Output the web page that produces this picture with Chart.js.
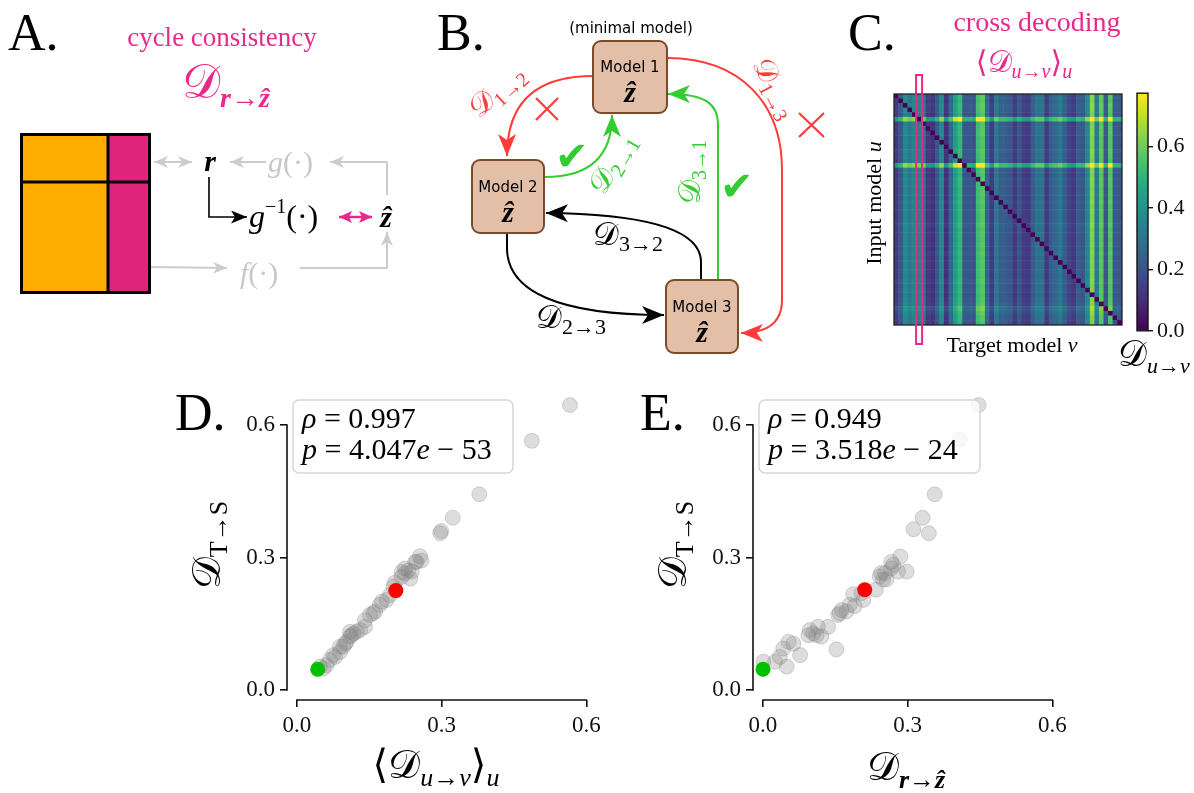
<!DOCTYPE html>
<html>
<head>
<meta charset="utf-8">
<script src="https://cdn.jsdelivr.net/npm/chart.js@4.4.1/dist/chart.umd.min.js"></script>
<style>
    body { margin: 0; background: #fff; width: 1194px; height: 793px; position: relative; overflow: hidden; }
    canvas { position: absolute; }
    #overlay { position: absolute; left: 0; top: 0; z-index: 2; pointer-events: none; font-family: "Liberation Serif", "DejaVu Serif", serif; }
    .sans { font-family: "DejaVu Sans", sans-serif; }
</style>
</head>
<body>

<canvas id="heatmap" width="246" height="280" style="left:880px;top:70px"></canvas>
<canvas id="colorbar" width="74" height="272" style="left:1120px;top:76px"></canvas>
<canvas id="scatterD" width="420" height="380" style="left:200px;top:370px"></canvas>
<canvas id="scatterE" width="420" height="380" style="left:666px;top:370px"></canvas>

<svg id="overlay" width="1194" height="793">
    <defs>
        <marker id="aGray" markerUnits="userSpaceOnUse" markerWidth="14" markerHeight="12" viewBox="0 0 14 12" refX="14" refY="6" orient="auto-start-reverse">
            <path d="M0,0 L14,6 L0,12 L4,6 z" fill="#cccccc"/>
        </marker>
        <marker id="aBlackS" markerUnits="userSpaceOnUse" markerWidth="16" markerHeight="13" viewBox="0 0 16 13" refX="16" refY="6.5" orient="auto">
            <path d="M0,0 L16,6.5 L0,13 L4,6.5 z" fill="#000"/>
        </marker>
        <marker id="aPink" markerUnits="userSpaceOnUse" markerWidth="13" markerHeight="12" viewBox="0 0 13 12" refX="13" refY="6" orient="auto-start-reverse">
            <path d="M0,0 L13,6 L0,12 L3,6 z" fill="#e7298a"/>
        </marker>
        <marker id="aRed" markerUnits="userSpaceOnUse" markerWidth="22" markerHeight="18" viewBox="0 0 22 18" refX="22" refY="9" orient="auto">
            <path d="M0,0 L22,9 L0,18 L6,9 z" fill="#ff3b3b"/>
        </marker>
        <marker id="aGreen" markerUnits="userSpaceOnUse" markerWidth="22" markerHeight="18" viewBox="0 0 22 18" refX="22" refY="9" orient="auto">
            <path d="M0,0 L22,9 L0,18 L6,9 z" fill="#33cc33"/>
        </marker>
        <marker id="aBlack" markerUnits="userSpaceOnUse" markerWidth="22" markerHeight="18" viewBox="0 0 22 18" refX="22" refY="9" orient="auto">
            <path d="M0,0 L22,9 L0,18 L6,9 z" fill="#000"/>
        </marker>
    </defs>

    <!-- A. cycle consistency -->
    <text x="8" y="50" font-size="52">A.</text>
    <text x="222" y="46" font-size="27" fill="#e7298a" text-anchor="middle">cycle consistency</text>
    <text x="226" y="98" fill="#e7298a" text-anchor="middle"><tspan font-size="48">𝒟</tspan><tspan font-size="28" dy="9" font-weight="bold" font-style="italic">r</tspan><tspan font-size="28">→</tspan><tspan font-size="28" font-weight="bold" font-style="italic">ẑ</tspan></text>

    <rect x="21.5" y="134.5" width="128" height="158" fill="#ffad01"/>
    <rect x="108" y="134.5" width="41.5" height="158" fill="#df247c"/>
    <line x1="108" y1="134" x2="108" y2="293" stroke="#000" stroke-width="3"/>
    <line x1="21" y1="182" x2="150" y2="182" stroke="#000" stroke-width="3"/>
    <rect x="21.5" y="134.5" width="128" height="158" fill="none" stroke="#000" stroke-width="3"/>

    <line x1="154" y1="162" x2="192" y2="162" stroke="#cccccc" stroke-width="2" marker-start="url(#aGray)" marker-end="url(#aGray)"/>
    <text x="210" y="171" font-size="30" font-weight="bold" font-style="italic" text-anchor="middle">r</text>
    <line x1="266" y1="162" x2="230" y2="162" stroke="#cccccc" stroke-width="2" marker-end="url(#aGray)"/>
    <text x="268" y="172" font-size="30" fill="#c8c8c8"><tspan font-style="italic">g</tspan>(·)</text>
    <polyline points="387,195 387,162 330,162" fill="none" stroke="#cccccc" stroke-width="2" marker-end="url(#aGray)"/>
    <line x1="151" y1="267" x2="227" y2="268" stroke="#cccccc" stroke-width="2" marker-end="url(#aGray)"/>
    <text x="240" y="283" font-size="30" fill="#c8c8c8"><tspan font-style="italic">f</tspan>(·)</text>
    <polyline points="300,268 387,268 387,232" fill="none" stroke="#cccccc" stroke-width="2" marker-end="url(#aGray)"/>

    <polyline points="209,177 209,217 247,217" fill="none" stroke="#000" stroke-width="1.6" marker-end="url(#aBlackS)"/>
    <text x="249" y="227" font-size="32"><tspan font-style="italic">g</tspan><tspan font-size="20" dy="-14">−1</tspan><tspan dy="14">(·)</tspan></text>
    <line x1="339" y1="217" x2="372" y2="217" stroke="#e7298a" stroke-width="2.5" marker-start="url(#aPink)" marker-end="url(#aPink)"/>
    <text x="386" y="227" font-size="30" font-weight="bold" font-style="italic" text-anchor="middle">ẑ</text>

    <!-- B. model graph -->
    <text x="437" y="50" font-size="52">B.</text>
    <text x="631" y="33" class="sans" font-size="15" text-anchor="middle">(minimal model)</text>

    <path d="M593,76 C545,76 507,95 507,156" fill="none" stroke="#ff3b3b" stroke-width="2" marker-end="url(#aRed)"/>
    <path d="M667,58 C742,58 782,105 782,170 L782,300 C782,322 768,333 741,333" fill="none" stroke="#ff3b3b" stroke-width="2" marker-end="url(#aRed)"/>
    <path d="M545,177 C585,177 612,160 612,115" fill="none" stroke="#33cc33" stroke-width="2" marker-end="url(#aGreen)"/>
    <path d="M718,280 L718,125 C718,104 706,94 668,94" fill="none" stroke="#33cc33" stroke-width="2" marker-end="url(#aGreen)"/>
    <path d="M701,280 L701,262 C701,228 640,214 546,213" fill="none" stroke="#000" stroke-width="2" marker-end="url(#aBlack)"/>
    <path d="M507,233 L507,248 C507,292 560,315 664,315" fill="none" stroke="#000" stroke-width="2" marker-end="url(#aBlack)"/>

    <rect x="593" y="41" width="74" height="72" rx="8" fill="#e3bfa8" stroke="#7b4a2b" stroke-width="2"/>
    <rect x="472" y="160" width="72" height="73" rx="8" fill="#e3bfa8" stroke="#7b4a2b" stroke-width="2"/>
    <rect x="666" y="280" width="72" height="73" rx="8" fill="#e3bfa8" stroke="#7b4a2b" stroke-width="2"/>
    <text x="630" y="72" class="sans" font-size="15" text-anchor="middle">Model 1</text>
    <text x="630" y="102" font-size="30" font-weight="bold" font-style="italic" text-anchor="middle">ẑ</text>
    <text x="508" y="192" class="sans" font-size="15" text-anchor="middle">Model 2</text>
    <text x="508" y="222" font-size="30" font-weight="bold" font-style="italic" text-anchor="middle">ẑ</text>
    <text x="702" y="312" class="sans" font-size="15" text-anchor="middle">Model 3</text>
    <text x="702" y="342" font-size="30" font-weight="bold" font-style="italic" text-anchor="middle">ẑ</text>

    <text transform="translate(503,98) rotate(-42)" text-anchor="middle" fill="#ff3b3b"><tspan font-size="30">𝒟</tspan><tspan font-size="20" dy="6">1→2</tspan></text>
    <text transform="translate(767,92) rotate(62)" text-anchor="middle" fill="#ff3b3b"><tspan font-size="30">𝒟</tspan><tspan font-size="20" dy="6">1→3</tspan></text>
    <text transform="translate(620,168) rotate(-60)" text-anchor="middle" fill="#33cc33"><tspan font-size="30">𝒟</tspan><tspan font-size="20" dy="6">2→1</tspan></text>
    <text transform="translate(700,172) rotate(-90)" text-anchor="middle" fill="#33cc33"><tspan font-size="30">𝒟</tspan><tspan font-size="20" dy="6">3→1</tspan></text>
    <text x="628" y="245" text-anchor="middle"><tspan font-size="32">𝒟</tspan><tspan font-size="22" dy="6">3→2</tspan></text>
    <text x="571" y="328" text-anchor="middle"><tspan font-size="32">𝒟</tspan><tspan font-size="22" dy="6">2→3</tspan></text>

    <path d="M536,98 L558,120 M558,98 L536,120" stroke="#ff3b3b" stroke-width="2.2"/>
    <path d="M799,113 L824,137 M824,113 L799,137" stroke="#ff3b3b" stroke-width="2.2"/>
    <text x="555" y="170" class="sans" font-size="40" fill="#33cc33">✔</text>
    <text x="720" y="200" class="sans" font-size="40" fill="#33cc33">✔</text>

    <!-- C. cross decoding -->
    <text x="848" y="50" font-size="52">C.</text>
    <text x="1037" y="31" font-size="28" fill="#e7298a" text-anchor="middle">cross decoding</text>
    <text x="1024" y="72" fill="#e7298a" text-anchor="middle"><tspan font-size="30">⟨𝒟</tspan><tspan font-size="20" dy="6" font-style="italic">u</tspan><tspan font-size="20">→</tspan><tspan font-size="20" font-style="italic">v</tspan><tspan font-size="30" dy="-6">⟩</tspan><tspan font-size="20" dy="6" font-style="italic">u</tspan></text>
    <text transform="translate(881,203) rotate(-90)" font-size="22" text-anchor="middle">Input model <tspan font-style="italic">u</tspan></text>
    <text x="1012" y="352" font-size="22" text-anchor="middle">Target model <tspan font-style="italic">v</tspan></text>
    <text x="1118" y="366"><tspan font-size="36">𝒟</tspan><tspan font-size="22" dy="7" font-style="italic">u</tspan><tspan font-size="22">→</tspan><tspan font-size="22" font-style="italic">v</tspan></text>

    <!-- D. -->
    <text x="175" y="430" font-size="52">D.</text>
    <rect x="293" y="400" width="220" height="73" rx="6" fill="#fff" fill-opacity="0.8" stroke="#d6d6d6" stroke-width="1.5"/>
    <text x="302" y="428" font-size="30"><tspan font-style="italic">ρ</tspan> = 0.997</text>
    <text x="302" y="459" font-size="30"><tspan font-style="italic">p</tspan> = 4.047<tspan font-style="italic">e</tspan> − 53</text>
    <text transform="translate(220,545) rotate(-90)" text-anchor="middle"><tspan font-size="40">𝒟</tspan><tspan font-size="26" dy="7">T→S</tspan></text>
    <text x="436" y="778" text-anchor="middle"><tspan font-size="40">⟨𝒟</tspan><tspan font-size="26" dy="8" font-style="italic">u</tspan><tspan font-size="26">→</tspan><tspan font-size="26" font-style="italic">v</tspan><tspan font-size="40" dy="-8">⟩</tspan><tspan font-size="26" dy="8" font-style="italic">u</tspan></text>

    <!-- E. -->
    <text x="640" y="430" font-size="52">E.</text>
    <rect x="759" y="400" width="221" height="73" rx="6" fill="#fff" fill-opacity="0.8" stroke="#d6d6d6" stroke-width="1.5"/>
    <text x="768" y="428" font-size="30"><tspan font-style="italic">ρ</tspan> = 0.949</text>
    <text x="768" y="459" font-size="30"><tspan font-style="italic">p</tspan> = 3.518<tspan font-style="italic">e</tspan> − 24</text>
    <text transform="translate(686,545) rotate(-90)" text-anchor="middle"><tspan font-size="40">𝒟</tspan><tspan font-size="26" dy="7">T→S</tspan></text>
    <text x="906" y="780" text-anchor="middle"><tspan font-size="40">𝒟</tspan><tspan font-size="26" dy="8" font-weight="bold" font-style="italic">r</tspan><tspan font-size="26">→</tspan><tspan font-size="26" font-weight="bold" font-style="italic">ẑ</tspan></text>
</svg>

<script>
    "use strict";

    // D: mean cross decoding <D_u->v>_u  vs  D_T->S
    var crossX = [0.566, 0.487, 0.378, 0.323, 0.299, 0.297, 0.255, 0.258, 0.245, 0.231, 0.224, 0.235, 0.217, 0.193, 0.186,
        0.172, 0.162, 0.151, 0.141, 0.131, 0.117, 0.110, 0.103, 0.096, 0.089, 0.079, 0.068, 0.061, 0.055, 0.200,
        0.176, 0.124, 0.113, 0.089, 0.141, 0.224, 0.248, 0.100, 0.075, 0.203, 0.238, 0.048, 0.158, 0.110, 0.217];
    var crossY = [0.645, 0.564, 0.443, 0.390, 0.360, 0.355, 0.303, 0.293, 0.290, 0.271, 0.264, 0.252, 0.256, 0.215, 0.204,
        0.193, 0.178, 0.170, 0.143, 0.136, 0.128, 0.121, 0.109, 0.098, 0.086, 0.075, 0.068, 0.056, 0.049, 0.234,
        0.200, 0.132, 0.124, 0.098, 0.158, 0.275, 0.290, 0.105, 0.079, 0.243, 0.268, 0.053, 0.174, 0.132, 0.267];
    var crossRed = [0.205, 0.225];
    var crossGreen = [0.043, 0.047];

    // E: cycle consistency D_r->z  vs  D_T->S
    var cycleX = [0.447, 0.408, 0.356, 0.331, 0.312, 0.344, 0.285, 0.266, 0.270, 0.298, 0.280, 0.253, 0.242, 0.256, 0.234,
        0.187, 0.208, 0.180, 0.163, 0.156, 0.135, 0.114, 0.104, 0.094, 0.121, 0.152, 0.077, 0.053, 0.042, 0.035,
        0.049, 0.025, 0.001, 0.245, 0.249, 0.266, 0.190, 0.173, 0.159, 0.097, 0.111, 0.063, 0.204];
    var cycleY = [0.645, 0.567, 0.443, 0.390, 0.364, 0.355, 0.302, 0.290, 0.283, 0.268, 0.268, 0.265, 0.257, 0.250, 0.227,
        0.217, 0.204, 0.193, 0.181, 0.170, 0.143, 0.143, 0.128, 0.124, 0.121, 0.092, 0.079, 0.109, 0.094, 0.075,
        0.053, 0.064, 0.064, 0.265, 0.250, 0.275, 0.190, 0.178, 0.174, 0.136, 0.124, 0.105, 0.219];
    var cycleRed = [0.211, 0.227];
    var cycleGreen = [0.000, 0.047];

    var axisTicks = [0, 0.3, 0.6];

    // C: cross decoding matrix, 50 models; level of each target column and lift of each input row
    var nModels = 50;
    var colLevel = [0.12, 0.20, 0.35, 0.30, 0.34, 0.32, 0.30, 0.12, 0.10, 0.20,
        0.35, 0.10, 0.25, 0.42, 0.50, 0.20, 0.20, 0.18, 0.52, 0.56,
        0.25, 0.12, 0.30, 0.22, 0.22, 0.20, 0.12, 0.20, 0.13, 0.12,
        0.22, 0.28, 0.28, 0.12, 0.22, 0.25, 0.30, 0.22, 0.15, 0.12,
        0.22, 0.20, 0.35, 0.62, 0.30, 0.56, 0.20, 0.55, 0.20, 0.20];
    var rowLift = [0.02, 0.01, 0.03, 0.02, 0.00, 0.30, 0.00, 0.01, 0.02, 0.00,
        0.01, 0.00, 0.02, 0.01, 0.00, 0.30, 0.01, 0.00, 0.02, 0.01,
        0.00, 0.01, 0.00, 0.02, 0.00, 0.01, 0.00, 0.01, 0.02, 0.00,
        0.01, 0.00, 0.01, 0.00, 0.02, 0.00, 0.01, 0.00, 0.01, 0.00,
        0.02, 0.00, 0.01, 0.00, 0.01, 0.02, 0.07, 0.03, 0.01, 0.00];
    var highlightCol = 5;
    var cbarMax = 0.773;
    var cbarTicks = [0, 0.2, 0.4, 0.6];

    var viridisStops = ['#440154', '#482475', '#414487', '#355f8d', '#2a788e', '#21918c',
        '#22a884', '#44bf70', '#7ad151', '#bddf26', '#fde725'];

    function hexRgb(h) {
        return [parseInt(h.substr(1, 2), 16), parseInt(h.substr(3, 2), 16), parseInt(h.substr(5, 2), 16)];
    }

    function viridis(t) {
        t = Math.max(0, Math.min(1, t));
        var p = t * 10, i = Math.min(9, Math.floor(p)), f = p - i;
        var a = hexRgb(viridisStops[i]), b = hexRgb(viridisStops[i + 1]);
        return 'rgb(' + [0, 1, 2].map(function (k) { return Math.round(a[k] + (b[k] - a[k]) * f); }).join(',') + ')';
    }

    var tickFont = { family: 'Liberation Serif', size: 23 };

    // matplotlib style trimmed spines, only from first to last tick
    var trimSpines = {
        id: 'trimSpines',
        afterDraw: function (chart) {
            var c = chart.ctx, a = chart.chartArea, sx = chart.scales.x, sy = chart.scales.y;
            var lo = axisTicks[0], hi = axisTicks[axisTicks.length - 1];
            c.save();
            c.strokeStyle = '#111';
            c.lineWidth = 1.6;
            c.beginPath();
            c.moveTo(sx.getPixelForValue(lo) - 0.8, a.bottom);
            c.lineTo(sx.getPixelForValue(hi) + 0.8, a.bottom);
            c.moveTo(a.left, sy.getPixelForValue(lo) + 0.8);
            c.lineTo(a.left, sy.getPixelForValue(hi) - 0.8);
            c.stroke();
            c.restore();
        }
    };

    function toPoints(xs, ys) {
        return xs.map(function (x, i) { return { x: x, y: ys[i] }; });
    }

    function makeScatter(id, xs, ys, red, green) {
        var axisOpts = function (fit) {
            return {
                type: 'linear',
                afterFit: fit,
                afterBuildTicks: function (s) { s.ticks = axisTicks.map(function (v) { return { value: v }; }); },
                ticks: { font: tickFont, color: '#111', padding: 5, autoSkip: false, maxRotation: 0,
                    callback: function (v) { return v.toFixed(1); } },
                grid: { display: true, drawOnChartArea: false, drawTicks: true, tickLength: 7, color: '#111', lineWidth: 1.6 },
                border: { display: false }
            };
        };
        var xAxis = axisOpts(function (s) { s.height = 50; });
        xAxis.min = -0.0207; xAxis.max = 0.62;
        var yAxis = axisOpts(function (s) { s.width = 87; });
        yAxis.min = -0.0226; yAxis.max = 0.68;

        return new Chart(document.getElementById(id), {
            type: 'scatter',
            data: {
                datasets: [
                    { data: [{ x: red[0], y: red[1] }], backgroundColor: '#ff0000', borderColor: '#ff0000', borderWidth: 0, pointRadius: 7.5 },
                    { data: [{ x: green[0], y: green[1] }], backgroundColor: '#00c000', borderColor: '#00c000', borderWidth: 0, pointRadius: 7.5 },
                    { data: toPoints(xs, ys), backgroundColor: 'rgba(128,128,128,0.27)', borderColor: 'rgba(128,128,128,0.3)',
                        borderWidth: 1, pointRadius: 7.5 }
                ]
            },
            options: {
                responsive: false,
                animation: false,
                devicePixelRatio: 1,
                layout: { padding: { left: 0, right: 24, top: 19.6, bottom: 0 } },
                plugins: { legend: { display: false }, tooltip: { enabled: false } },
                scales: { x: xAxis, y: yAxis }
            },
            plugins: [trimSpines]
        });
    }

    makeScatter('scatterD', crossX, crossY, crossRed, crossGreen);
    makeScatter('scatterE', cycleX, cycleY, cycleRed, cycleGreen);

    // heatmap cells
    var heatCells = [];
    for (var u = 0; u < nModels; u++) {
        for (var v = 0; v < nModels; v++) {
            heatCells.push({ x: v, y: u, c: u === v ? 0 : Math.min(cbarMax, colLevel[v] + rowLift[u]) });
        }
    }

    var heatFrame = {
        id: 'heatFrame',
        afterDatasetsDraw: function (chart) {
            var c = chart.ctx, a = chart.chartArea, sx = chart.scales.x;
            c.save();
            c.strokeStyle = '#222';
            c.lineWidth = 1.3;
            c.strokeRect(a.left, a.top, a.right - a.left, a.bottom - a.top);
            var cx = sx.getPixelForValue(highlightCol);
            c.strokeStyle = '#e7298a';
            c.lineWidth = 2;
            c.strokeRect(cx - 3, 5, 6, 269);
            c.restore();
        }
    };

    new Chart(document.getElementById('heatmap'), {
        type: 'scatter',
        data: {
            datasets: [{
                data: heatCells,
                pointStyle: 'rect',
                pointRadius: 3.6,
                borderWidth: 0,
                backgroundColor: function (ctx) { return ctx.raw ? viridis(ctx.raw.c / cbarMax) : '#000'; }
            }]
        },
        options: {
            responsive: false,
            animation: false,
            devicePixelRatio: 1,
            layout: { padding: { left: 14, right: 3, top: 24, bottom: 25 } },
            plugins: { legend: { display: false }, tooltip: { enabled: false } },
            scales: {
                x: { type: 'linear', min: -0.5, max: nModels - 0.5, display: false },
                y: { type: 'linear', min: -0.5, max: nModels - 0.5, reverse: true, display: false }
            }
        },
        plugins: [heatFrame]
    });

    // colorbar
    new Chart(document.getElementById('colorbar'), {
        type: 'bar',
        data: {
            labels: ['D'],
            datasets: [{
                data: [cbarMax],
                barPercentage: 1,
                categoryPercentage: 1,
                borderWidth: 0,
                backgroundColor: function (ctx) {
                    var a = ctx.chart.chartArea;
                    if (!a) return '#21918c';
                    var g = ctx.chart.ctx.createLinearGradient(0, a.bottom, 0, a.top);
                    viridisStops.forEach(function (s, i) { g.addColorStop(i / 10, s); });
                    return g;
                }
            }]
        },
        options: {
            responsive: false,
            animation: false,
            devicePixelRatio: 1,
            layout: { padding: { left: 17, right: 0, top: 11, bottom: 14 } },
            plugins: { legend: { display: false }, tooltip: { enabled: false } },
            scales: {
                x: { display: false },
                y: {
                    position: 'right', min: 0, max: cbarMax,
                    afterFit: function (s) { s.width = 46; },
                    afterBuildTicks: function (s) { s.ticks = cbarTicks.map(function (v) { return { value: v }; }); },
                    ticks: { font: { family: 'Liberation Serif', size: 22 }, color: '#111', padding: 4,
                        callback: function (v) { return v.toFixed(1); } },
                    grid: { display: true, drawOnChartArea: false, drawTicks: true, tickLength: 5, color: '#111', lineWidth: 1.4 },
                    border: { display: false }
                }
            }
        },
        plugins: [{
            id: 'cbarFrame',
            afterDraw: function (chart) {
                var c = chart.ctx, a = chart.chartArea;
                c.save();
                c.strokeStyle = '#111';
                c.lineWidth = 1.4;
                c.strokeRect(a.left, a.top, a.right - a.left, a.bottom - a.top);
                c.restore();
            }
        }]
    });
</script>
</body>
</html>
